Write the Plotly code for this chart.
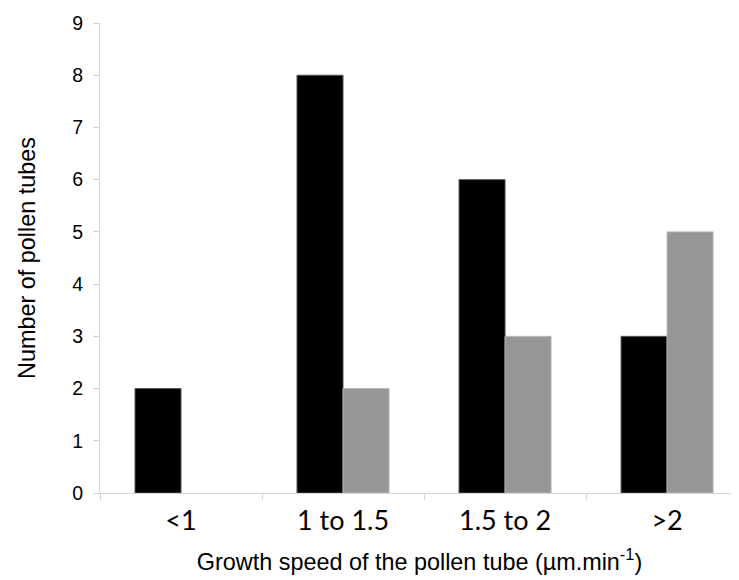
import plotly.graph_objects as go

# speed classes (µm/min) and counts
categories = ["<1", "1 to 1.5", "1.5 to 2", ">2"]
series_black = [2, 8, 6, 3]
series_grey = [0, 2, 3, 5]

axis_grey = "#d4d4d4"

fig = go.Figure()

fig.add_trace(
    go.Bar(
        x=categories,
        y=series_black,
        name="black",
        marker=dict(color="#000000", line=dict(color="#555555", width=1)),
    )
)
fig.add_trace(
    go.Bar(
        x=categories,
        y=series_grey,
        name="grey",
        marker=dict(
            color="#969696",
            # no outline on empty bars, so a zero count leaves nothing drawn
            line=dict(color="#b8b8b8", width=[0 if v == 0 else 1 for v in series_grey]),
        ),
    )
)

# the page body has an 8px margin, so the figure is sized to fit inside it
fig.update_layout(
    width=731,
    height=572,
    barmode="group",
    bargap=0.432,
    bargroupgap=0,
    showlegend=False,
    plot_bgcolor="white",
    paper_bgcolor="white",
    margin=dict(l=92, r=0, t=15, b=87),
    font=dict(family="Liberation Sans, Arial, sans-serif", color="#000000"),
)

fig.update_xaxes(
    range=[-0.5, 3.444],
    showline=True,
    linecolor=axis_grey,
    linewidth=1,
    showgrid=False,
    ticks="outside",
    tickson="boundaries",
    ticklen=6,
    tickcolor=axis_grey,
    ticklabelstandoff=4,
    tickfont=dict(family="Lato, sans-serif", size=27, color="#000000"),
    title=dict(
        text="Growth speed of the pollen tube (µm.min<sup>-1</sup>)",
        font=dict(family="Liberation Sans, Arial, sans-serif", size=23.4),
        standoff=18,
    ),
)

fig.update_yaxes(
    range=[0, 9],
    dtick=1,
    showline=True,
    linecolor=axis_grey,
    linewidth=1,
    showgrid=False,
    zeroline=False,
    ticks="outside",
    ticklen=6,
    tickcolor=axis_grey,
    ticklabelstandoff=6,
    tickfont=dict(family="Liberation Sans, Arial, sans-serif", size=19.5, color="#000000"),
    title=dict(
        text="Number of pollen tubes",
        font=dict(family="Liberation Sans, Arial, sans-serif", size=23.4),
        standoff=30,
    ),
)

fig.write_html("out.html")
